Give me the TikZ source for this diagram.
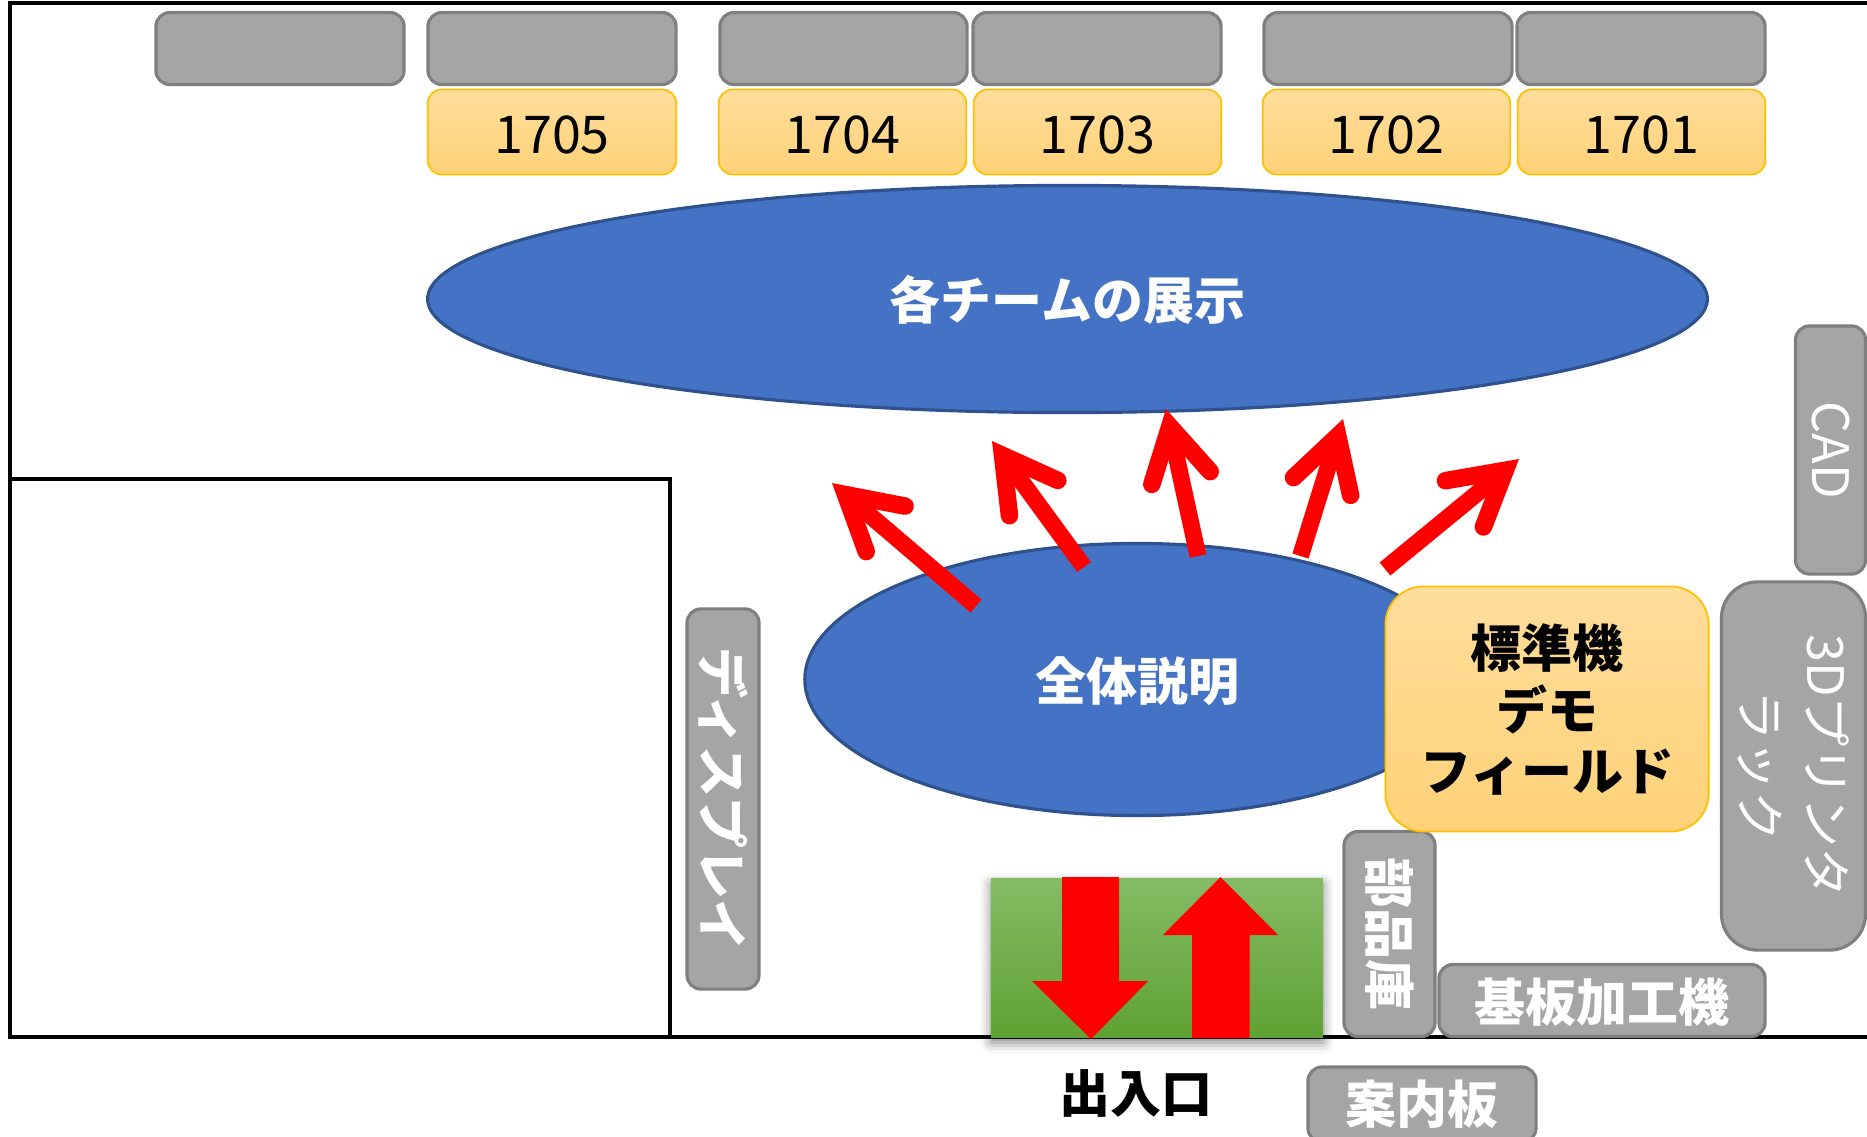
\documentclass[tikz,border=0pt]{standalone}
\usepackage{fontspec}
\setmainfont{Noto Sans CJK JP}
\usepackage{tikz}
\usetikzlibrary{arrows.meta,shapes.geometric,shadows.blur}

\definecolor{grayfill}{HTML}{A5A5A5}
\definecolor{grayline}{HTML}{7F7F7F}
\definecolor{orangetop}{HTML}{FFDD9C}
\definecolor{orangebot}{HTML}{FFD278}
\definecolor{orangeline}{HTML}{FFC000}
\definecolor{bluefill}{HTML}{4472C4}
\definecolor{blueline}{HTML}{2F528F}
\definecolor{greentop}{HTML}{85BB65}
\definecolor{greenbot}{HTML}{5FA233}

\begin{document}
\begin{tikzpicture}[x=0.01cm,y=-0.01cm,
  graybox/.style={rectangle,rounded corners=0.14cm,draw=grayline,fill=grayfill,line width=0.9pt,inner sep=0pt,text=white},
  orangebox/.style={rectangle,rounded corners=0.14cm,draw=orangeline,top color=orangetop,bottom color=orangebot,line width=0.5pt,inner sep=0pt,text=black},
  blueoval/.style={ellipse,draw=blueline,fill=bluefill,line width=0.9pt,inner sep=0pt,text=white},
  thinfont/.style={font=\fontsize{14.3}{19}\selectfont},
  midfont/.style={font=\fontsize{14.8}{17.5}\selectfont,text height=12.5pt,text depth=0pt},
  boldfont/.style={font=\fontsize{14.5}{17.5}\selectfont\bfseries},
  lowtext/.style={text height=13.2pt,text depth=1.45pt},
  redarrow/.style={draw=red,line width=4.8pt,-{Straight Barb[length=15pt,width=17pt,line width=5pt,line cap=round,line join=miter]}}]
\useasboundingbox (0,0) rectangle (1867,1136);

% rooms
\draw[line width=0.9pt] (1867,3) -- (10,3) -- (10,1037) -- (1867,1037);
\draw[line width=0.9pt] (10,479) rectangle (670,1037);

% top row
\node[graybox,name=desk0,minimum width=2.48cm,minimum height=0.72cm] at (280,48.5) {};
\node[graybox,name=desk1,minimum width=2.48cm,minimum height=0.72cm] at (552,48.5) {};
\node[graybox,name=desk2,minimum width=2.47cm,minimum height=0.72cm] at (843.5,48.5) {};
\node[graybox,name=desk3,minimum width=2.48cm,minimum height=0.72cm] at (1097,48.5) {};
\node[graybox,name=desk4,minimum width=2.48cm,minimum height=0.72cm] at (1388,48.5) {};
\node[graybox,name=desk5,minimum width=2.48cm,minimum height=0.72cm] at (1641,48.5) {};

\node[orangebox,midfont,name=t1705,minimum width=2.485cm,minimum height=0.85cm] at (552,132) {1705};
\node[orangebox,midfont,name=t1704,minimum width=2.475cm,minimum height=0.85cm] at (842.5,132) {1704};
\node[orangebox,midfont,name=t1703,minimum width=2.475cm,minimum height=0.85cm] at (1097.5,132) {1703};
\node[orangebox,midfont,name=t1702,minimum width=2.475cm,minimum height=0.85cm] at (1386.5,132) {1702};
\node[orangebox,midfont,name=t1701,minimum width=2.475cm,minimum height=0.85cm] at (1641.5,132) {1701};

% ovals
\node[blueoval,boldfont,lowtext,name=teams,minimum width=12.79cm,minimum height=2.27cm] at (1067.5,299) {各チームの展示};
\node[blueoval,boldfont,lowtext,name=overall,minimum width=6.64cm,minimum height=2.72cm] at (1137,679.5) {全体説明};

% side boxes
\node[graybox,thinfont,rotate=-90,name=cad,minimum width=2.48cm,minimum height=0.7cm] at (1830.5,450) {CAD};
\node[graybox,thinfont,rotate=-90,align=center,name=printer,rounded corners=0.36cm,minimum width=3.68cm,minimum height=1.44cm] at (1793.5,766) {3Dプリンタ\\ラック};
\node[graybox,boldfont,rotate=-90,name=display,minimum width=3.8cm,minimum height=0.72cm] at (723,799) {ディスプレイ};
\node[graybox,boldfont,rotate=-90,name=parts,minimum width=2.05cm,minimum height=0.91cm] at (1389.5,934) {部品庫};
\node[graybox,boldfont,lowtext,name=cnc,minimum width=3.26cm,minimum height=0.72cm] at (1602,1000.5) {基板加工機};
\node[graybox,boldfont,name=guide,minimum width=2.28cm,minimum height=0.75cm] at (1422,1104.5) {案内板};

\node[orangebox,name=demo,rounded corners=0.38cm,minimum width=3.23cm,minimum height=2.45cm] at (1547,709) {};
\node[boldfont,align=center,name=demotext] at (1547,709.5) {標準機\\デモ\\フィールド};

% door
\node[rectangle,name=door,top color=greentop,bottom color=greenbot,minimum width=3.32cm,minimum height=1.58cm,inner sep=0pt,
  blur shadow={shadow xshift=0pt,shadow yshift=-1.5pt,shadow blur radius=3pt,shadow opacity=50}] at (1157,958) {};
\fill[red] (1062,877) -- (1119,877) -- (1119,981) -- (1148,981) -- (1091,1039) -- (1032,981) -- (1062,981) -- cycle;
\fill[red] (1192,1038) -- (1249.5,1038) -- (1249.5,935) -- (1278,935) -- (1220.5,877) -- (1163,935) -- (1192,935) -- cycle;
\node[boldfont,name=doorlabel] at (1136,1093) {出入口};

% connections
\coordinate (from1) at (976,606);
\coordinate (to1) at (832,483);
\coordinate (from2) at (1084,567);
\coordinate (to2) at (992,441);
\coordinate (from3) at (1198,556);
\coordinate (to3) at (1166,409);
\coordinate (from4) at (1300.5,556);
\coordinate (to4) at (1343,419);
\coordinate (from5) at (1385,569);
\coordinate (to5) at (1519,459);
\foreach \i in {1,...,5} {
  \draw[redarrow] (from\i) -- (to\i);
}

\end{tikzpicture}
\end{document}
